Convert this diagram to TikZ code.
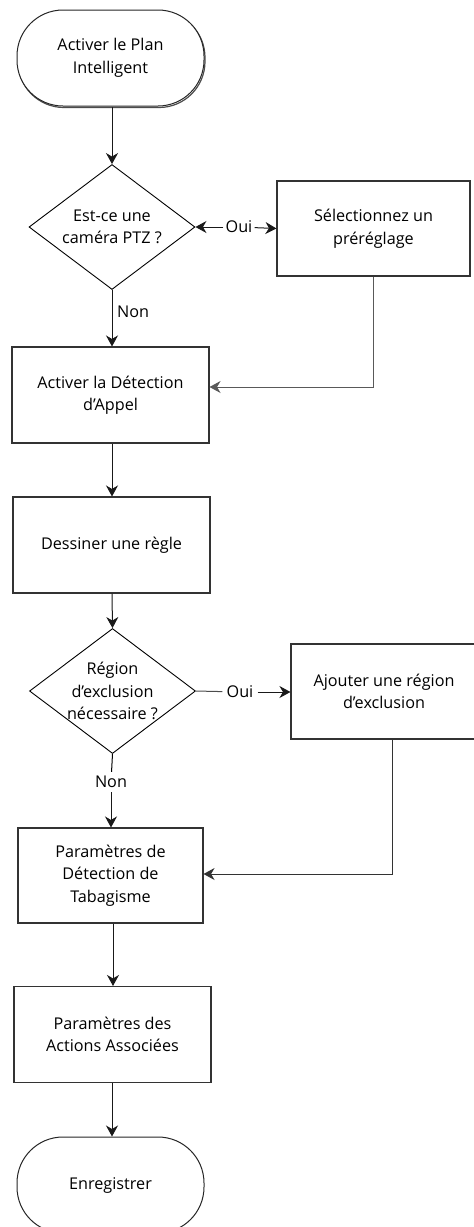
\documentclass[tikz,border=0pt]{standalone}
\usepackage{fontspec}
\setmainfont{Open Sans}
\usetikzlibrary{shapes.geometric,arrows.meta}
\begin{document}
\begin{tikzpicture}[x=1pt,y=-1pt,font=\fontsize{16.2}{22.5}\selectfont,align=center,
  term/.style={draw=black!85,line width=1pt,fill=white,rounded corners=46pt,minimum width=187pt,minimum height=96pt,inner sep=0pt},
  proc/.style={draw=black!80,line width=1.1pt,fill=white,minimum width=197pt,minimum height=96pt,inner sep=0pt},
  dec/.style={draw=black,line width=0.9pt,diamond,minimum width=166pt,minimum height=125pt,inner sep=0pt},
  txt/.style={align=center,inner sep=0pt},
  lbl/.style={fill=white,inner sep=2pt},
  arr/.style={-{Stealth[length=11pt,width=12pt,inset=3.5pt]},line width=1pt,black!90},
  ln/.style={line width=1pt,black!70}]
  \useasboundingbox (0,0) rectangle (474,1227);
  \node[term,preaction={draw=black!70,line width=1.2pt,rounded corners=46pt,transform canvas={shift={(1pt,-1.5pt)}}}] (start) at (110.5,58){Activer le Plan\\Intelligent};
  \node[dec,label={[txt]center:Est-ce une\\caméra PTZ ?}] (ptz) at (112,227){};
  \node[proc,minimum width=193pt,minimum height=95pt] (preset) at (373.5,228.5){Sélectionnez un\\préréglage};
  \node[proc] (appel) at (110.5,395){Activer la Détection\\d’Appel};
  \node[proc] (regle) at (111.5,545){Dessiner une règle};
  \node[dec,label={[txt]center:Région\\d’exclusion\\nécessaire ?}] (zone) at (112.5,691){};
  \node[proc,minimum width=186pt,minimum height=95pt] (excl) at (384,691.5){Ajouter une région\\d’exclusion};
  \node[proc,minimum width=185pt,minimum height=95pt] (tabac) at (110.5,875.5){Paramètres de\\Détection de\\Tabagisme};
  \node[proc] (actions) at (112.5,1034.5){Paramètres des\\Actions Associées};
  \node[term] (save) at (110.5,1185){Enregistrer};
  % labels
  \node[lbl] (oui1) at (239,227){Oui};
  \node[anchor=west,inner sep=2pt] (non1) at (115,312){Non};
  \node[lbl,inner sep=4pt] (oui2) at (240,692){Oui};
  \node[lbl,inner sep=4pt] (non2) at (111,782){Non};
  \coordinate (c1) at (preset.south |- 0,387);
  \coordinate (c2) at (excl.south -| 392,0);
  \coordinate (c3) at (392,874);
  % arrows
  \draw[arr] (start.south -| ptz.north) -- (ptz.north);
  \draw[arr] (oui1) -- (ptz.east);
  \draw[arr] (oui1) -- (preset.west);
  \draw[arr] (ptz.south) -- (appel.north -| ptz.south);
  \draw[arr,black!65] (preset.south) -- (c1) -- (c1 -| appel.east);
  \draw[arr] (appel.south -| 112,0) -- (regle.north -| 112,0);
  \draw[arr] (regle.south -| 112,0) -- (zone.north);
  \draw[ln] (zone.east) -- (oui2);
  \draw[arr] (oui2) -- (excl.west |- oui2);
  \draw[ln,black] (zone.south) -- (non2);
  \draw[arr] (non2) -- (tabac.north -| non2);
  \draw[arr,black!80] (c2) -- (c3) -- (c3 -| tabac.east);
  \draw[arr] (tabac.south -| 113,0) -- (actions.north -| 113,0);
  \draw[arr] (actions.south -| 112,0) -- (save.north -| 112,0);
\end{tikzpicture}
\end{document}
